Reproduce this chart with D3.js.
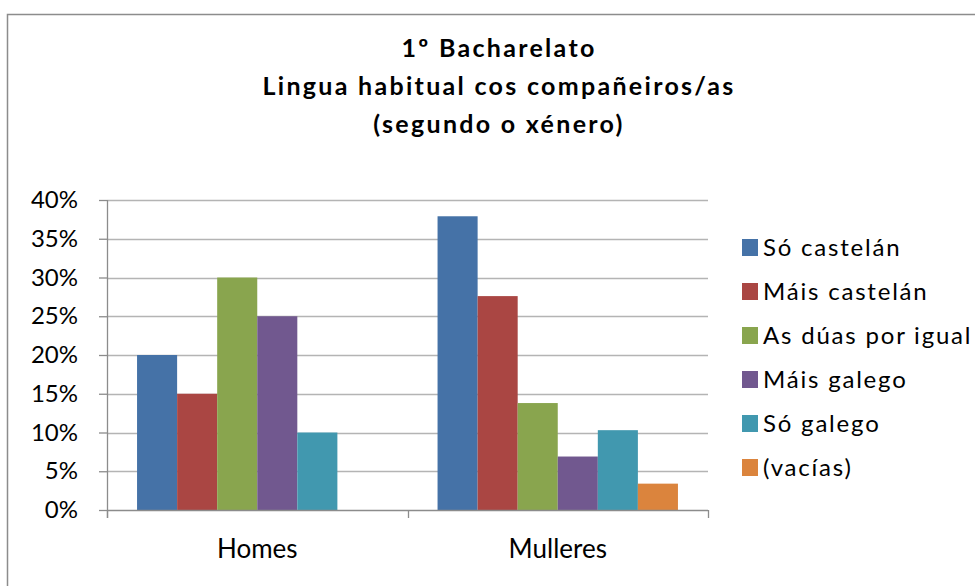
<!DOCTYPE html>
<html>
<head>
<meta charset="utf-8">
<script src="https://cdn.jsdelivr.net/npm/d3@7"></script>
<style>
	body { margin: 0; background: #fff; }
	text { font-family: Lato, "Open Sans", sans-serif; fill: #000; }
</style>
</head>
<body>
<div id="vis"></div>
<script>
const FRAME_WIDTH = 975;
const FRAME_HEIGHT = 586;
const PLOT = { left: 107, right: 708, top: 200, bottom: 510 };

// data
const CATEGORIES = ["Homes", "Mulleres"];
const SERIES = ["Só castelán", "Máis castelán", "As dúas por igual", "Máis galego", "Só galego", "(vacías)"];
const HOMES = [0.20, 0.15, 0.30, 0.25, 0.10, 0];
const MULLERES = [0.379, 0.276, 0.138, 0.069, 0.103, 0.034];
const Y_TICKS = [0, 0.05, 0.10, 0.15, 0.20, 0.25, 0.30, 0.35, 0.40];
const COLORS = ["#4572A7", "#AA4643", "#89A54E", "#71588F", "#4198AF", "#DB843D"];
const TITLE = ["1º Bacharelato", "Lingua habitual cos compañeiros/as", "(segundo o xénero)"];

const VALUES = [HOMES, MULLERES];

const FRAME = d3.select("#vis")
	.append("svg")
	.attr("width", FRAME_WIDTH)
	.attr("height", FRAME_HEIGHT);

// chart border (runs off the right and bottom edge)
FRAME.append("rect")
	.attr("x", 7.5)
	.attr("y", 14.5)
	.attr("width", 1000)
	.attr("height", 600)
	.attr("fill", "none")
	.attr("stroke", "#8c8c8c")
	.attr("stroke-width", 1.5);

// scales
const X_SCALE = d3.scaleBand()
	.domain(CATEGORIES)
	.range([PLOT.left, PLOT.right]);

const X_INNER = d3.scaleBand()
	.domain(SERIES)
	.range([X_SCALE.bandwidth() * 0.1, X_SCALE.bandwidth() * 0.9]);

const Y_SCALE = d3.scaleLinear()
	.domain([0, 0.4])
	.range([PLOT.bottom, PLOT.top]);

const COLOR = d3.scaleOrdinal().domain(SERIES).range(COLORS);

// gridlines
FRAME.append("g")
	.selectAll("line")
	.data(Y_TICKS.slice(1))
	.enter()
	.append("line")
	.attr("x1", PLOT.left)
	.attr("x2", PLOT.right)
	.attr("y1", (d) => Math.round(Y_SCALE(d)) + 0.5)
	.attr("y2", (d) => Math.round(Y_SCALE(d)) + 0.5)
	.attr("stroke", "#b4b4b4")
	.attr("stroke-width", 1.3);

// bars
const GROUPS = FRAME.selectAll(".group")
	.data(CATEGORIES)
	.enter()
	.append("g")
	.attr("transform", (d) => `translate(${X_SCALE(d)},0)`);

GROUPS.selectAll("rect")
	.data((d, i) => SERIES.map((s, j) => ({ s: s, v: VALUES[i][j] })))
	.enter()
	.append("rect")
	.attr("x", (d) => X_INNER(d.s))
	.attr("y", (d) => Y_SCALE(d.v))
	.attr("width", X_INNER.bandwidth())
	.attr("height", (d) => PLOT.bottom - Y_SCALE(d.v))
	.attr("fill", (d) => COLOR(d.s));

// y axis
const Y_AXIS = d3.axisLeft(Y_SCALE)
	.tickValues(Y_TICKS)
	.tickFormat(d3.format(".0%"))
	.tickSize(8)
	.tickPadding(21);

const YG = FRAME.append("g")
	.attr("transform", `translate(${PLOT.left},0)`)
	.call(Y_AXIS);
YG.select(".domain").attr("stroke", "#8c8c8c").attr("stroke-width", 1.3)
	.attr("d", `M0.5,${PLOT.top}V${PLOT.bottom + 8}`);
YG.selectAll(".tick line").attr("stroke", "#8c8c8c").attr("stroke-width", 1.3);
YG.selectAll(".tick text")
	.style("font-family", "Lato, sans-serif")
	.style("font-size", "24px")
	.attr("fill", "#000");

// x axis
const X_AXIS = d3.axisBottom(X_SCALE)
	.tickSize(0);

const XG = FRAME.append("g")
	.attr("transform", `translate(0,${PLOT.bottom})`)
	.call(X_AXIS);
XG.select(".domain").attr("stroke", "#8c8c8c").attr("stroke-width", 1.3)
	.attr("d", `M${PLOT.left},0.5H${PLOT.right}`);
XG.selectAll(".tick text")
	.attr("y", 48)
	.attr("dy", 0)
	.style("font-family", "Lato, sans-serif")
	.style("font-size", "26px")
	.attr("fill", "#000");

// category boundary ticks
FRAME.append("g")
	.selectAll("line")
	.data([CATEGORIES[0], CATEGORIES[1], null])
	.enter()
	.append("line")
	.attr("x1", (d) => Math.round(d ? X_SCALE(d) : PLOT.right) + 0.5)
	.attr("x2", (d) => Math.round(d ? X_SCALE(d) : PLOT.right) + 0.5)
	.attr("y1", PLOT.bottom)
	.attr("y2", PLOT.bottom + 8)
	.attr("stroke", "#8c8c8c")
	.attr("stroke-width", 1.3);

// title
FRAME.append("g")
	.selectAll("text")
	.data(TITLE)
	.enter()
	.append("text")
	.attr("x", 499)
	.attr("y", (d, i) => 57 + i * 38)
	.attr("text-anchor", "middle")
	.style("font-size", "25px")
	.style("font-weight", "bold")
	.style("letter-spacing", "2.3px")
	.text((d) => d);

// legend
const LEGEND = FRAME.append("g")
	.selectAll("g")
	.data(SERIES)
	.enter()
	.append("g")
	.attr("transform", (d, i) => `translate(742,${239 + i * 44})`);

LEGEND.append("rect")
	.attr("width", 16)
	.attr("height", 17)
	.attr("fill", (d) => COLOR(d));

LEGEND.append("text")
	.attr("x", 21)
	.attr("y", 17)
	.style("font-size", "24px")
	.style("letter-spacing", "1.8px")
	.text((d) => d);
</script>
</body>
</html>
